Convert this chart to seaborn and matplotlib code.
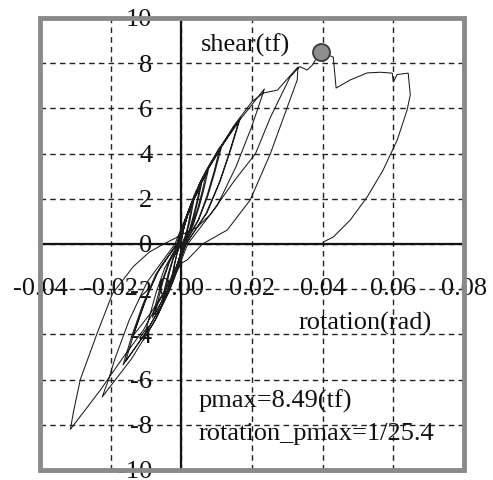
import matplotlib
matplotlib.use("Agg")
import matplotlib.pyplot as plt
import pandas as pd
import seaborn as sns
from matplotlib.patches import Rectangle

# ---------------- data ----------------
x_ticks = [-0.04, -0.02, 0.00, 0.02, 0.04, 0.06, 0.08]
x_tick_labels = ["-0.04", "-0.02", "0.00", "0.02", "0.04", "0.06", "0.08"]
y_ticks = [-10, -8, -6, -4, -2, 0, 2, 4, 6, 8, 10]
y_tick_labels = ["-10", "-8", "-6", "-4", "-2", "0", "2", "4", "6", "8", "10"]

# hysteresis cycles: rotation (rad) / shear (tf)
rot_a = [0, 0.00033, 0.0010, 0.0019, 0.0030, 0.0025, 0.0020, 0.0013, 0.0003,
         -0.0003, -0.0009, -0.0017, -0.0027, -0.0023, -0.0018, -0.0012, -0.0003]
shear_a = [0, 0.45, 0.9, 1.35, 1.8, 1.35, 0.9, 0.45, 0,
           -0.425, -0.85, -1.275, -1.7, -1.275, -0.85, -0.425, 0]

rot_a2 = [0.0004, 0.0012, 0.0023, 0.0036, 0.0030, 0.0024, 0.0016, 0.0003,
          -0.00035, -0.0011, -0.0020, -0.0032, -0.0027, -0.0021, -0.0014, -0.0003]
shear_a2 = [0.5, 1.0, 1.5, 2.0, 1.5, 1.0, 0.5, 0,
            -0.49, -0.975, -1.46, -1.95, -1.46, -0.975, -0.49, 0]

rot_b = [0.00057, 0.0017, 0.0033, 0.0052, 0.0044, 0.0034, 0.0023, 0.0004,
         -0.00055, -0.00165, -0.0032, -0.0050, -0.0042, -0.0033, -0.0022, -0.0004]
shear_b = [0.625, 1.25, 1.875, 2.5, 1.875, 1.25, 0.625, 0,
           -0.61, -1.225, -1.84, -2.45, -1.84, -1.225, -0.61, 0]

rot_b2 = [0.0006, 0.0019, 0.0036, 0.0057, 0.0048, 0.0038, 0.0025, 0.0005,
          -0.0006, -0.0018, -0.0035, -0.0056, -0.0047, -0.0037, -0.0024, -0.0005]
shear_b2 = [0.66, 1.325, 1.99, 2.65, 1.99, 1.325, 0.66, 0,
            -0.65, -1.3, -1.95, -2.6, -1.95, -1.3, -0.65, 0]

rot_c = [0.00076, 0.0023, 0.0044, 0.0070, 0.0059, 0.0046, 0.0030, 0.0006,
         -0.0008, -0.0025, -0.0047, -0.0075, -0.0063, -0.0050, -0.0033, -0.0006]
shear_c = [0.775, 1.55, 2.325, 3.1, 2.325, 1.55, 0.775, 0,
           -0.775, -1.55, -2.325, -3.1, -2.325, -1.55, -0.775, 0]

rot_c2 = [0.0008, 0.0025, 0.0048, 0.0076, 0.0064, 0.0050, 0.0033, 0.0006,
          -0.0009, -0.0027, -0.0052, -0.0082, -0.0069, -0.0054, -0.0036, -0.0007]
shear_c2 = [0.81, 1.625, 2.44, 3.25, 2.44, 1.625, 0.81, 0,
            -0.81, -1.625, -2.44, -3.25, -2.44, -1.625, -0.81, 0]

rot_d = [0.0012, 0.0036, 0.0069, 0.0110, 0.0093, 0.0073, 0.0048, 0.0009,
         -0.0012, -0.0035, -0.0068, -0.0107, -0.0090, -0.0071, -0.0047, -0.0009]
shear_d = [1.075, 2.15, 3.225, 4.3, 3.225, 2.15, 1.075, 0,
           -1.06, -2.125, -3.19, -4.25, -3.19, -2.125, -1.06, 0]

rot_d2 = [0.0012, 0.0037, 0.0071, 0.0113, 0.0095, 0.0075, 0.0049, 0.0009,
          -0.0015, -0.0045, -0.0086, -0.0136, -0.0114, -0.0090, -0.0059, -0.0011]
shear_d2 = [1.06, 2.125, 3.19, 4.25, 3.19, 2.125, 1.06, 0,
            -1.01, -2.025, -3.04, -4.05, -3.04, -2.025, -1.01, 0]

rot_e = [0.0018, 0.0055, 0.0105, 0.0167, 0.0140, 0.0110, 0.0073, 0.0013,
         -0.0017, -0.0052, -0.0100, -0.0158, -0.0133, -0.0104, -0.0069, -0.0013]
shear_e = [1.39, 2.785, 4.18, 5.57, 4.18, 2.785, 1.39, 0,
           -1.3, -2.6, -3.9, -5.2, -3.9, -2.6, -1.3, 0]

rot_e2 = [0.0018, 0.0053, 0.0102, 0.0162, 0.0136, 0.0107, 0.0070, 0.0013,
          -0.0018, -0.0054, -0.0104, -0.0165, -0.0139, -0.0109, -0.0072, -0.0013]
shear_e2 = [1.35, 2.7, 4.05, 5.4, 4.05, 2.7, 1.35, 0,
            -1.34, -2.675, -4.01, -5.35, -4.01, -2.675, -1.34, 0]

rot_f = [0.0026, 0.0078, 0.0148, 0.0235, 0.0218, 0.0198, 0.0155, 0.0102, 0.0018,
         -0.0024, -0.0074, -0.0141, -0.0224, -0.0206, -0.0188, -0.0148, -0.0097, -0.0018]
shear_f = [1.715, 3.43, 5.145, 6.86, 6.06, 5.145, 3.43, 1.715, 0,
           -1.69, -3.385, -5.08, -6.77, -6.0, -5.08, -3.385, -1.69, 0]

rot_g = [0.0000, 0.0050, 0.0096, 0.0147, 0.0200, 0.0232, 0.0272, 0.0330, 0.0328, 0.0300, 0.0252, 0.0195,
         0.0130, 0.0060, 0.0017, 0.0000, -0.0040, -0.0107, -0.0164, -0.0229, -0.0280, -0.0314, -0.0305,
         -0.0286, -0.0238, -0.0195, -0.0136, -0.0090, -0.0050]
shear_g = [0.7, 2.6, 3.9, 5.2, 6.3, 6.68, 6.81, 7.83, 7.26, 6.06, 4.0, 1.95,
           0.62, 0.0, -0.7, -0.85, -1.9, -3.8, -5.0, -6.46, -7.5, -8.2, -7.4,
           -6.0, -3.94, -2.2, -1.0, -0.35, 0]

rot_final = [0.0045, 0.0082, 0.0150, 0.0210, 0.0252, 0.0308, 0.0335, 0.0356, 0.0371, 0.0393, 0.0416,
             0.0430, 0.0438, 0.0478, 0.0526, 0.0563, 0.0597, 0.0600, 0.0611, 0.0642, 0.0648, 0.0639,
             0.0611, 0.0571, 0.0526, 0.0478, 0.0430, 0.0402, 0.0400]
shear_final = [0.75, 1.3, 2.8, 4.0, 5.6, 7.4, 7.85, 7.7, 7.92, 8.49, 8.36,
               8.27, 6.9, 7.26, 7.57, 7.6, 7.56, 7.17, 7.5, 7.56, 6.6, 5.93,
               4.6, 3.27, 2.08, 1.06, 0.31, 0.09, 0.0]

pmax_rot = [0.0394]
pmax_shear = [8.49]

# ---------------- build the path ----------------
rot_parts = [rot_a, rot_a2, rot_b, rot_b2, rot_c, rot_c2, rot_d, rot_d2, rot_e, rot_e2, rot_f, rot_g, rot_final]
shear_parts = [shear_a, shear_a2, shear_b, shear_b2, shear_c, shear_c2, shear_d, shear_d2, shear_e, shear_e2, shear_f, shear_g, shear_final]
rot_all, shear_all = [], []
for r, s in zip(rot_parts, shear_parts):
    rot_all += r
    shear_all += s
df = pd.DataFrame({"rotation": rot_all, "shear": shear_all})

# ---------------- figure ----------------
sns.set_style("white")
plt.rcParams["font.family"] = ["Liberation Serif", "DejaVu Serif"]
plt.rcParams["axes.unicode_minus"] = False

W, H = 493, 480
fig = plt.figure(figsize=(W / 100, H / 100), dpi=100)
ax = fig.add_axes([40 / W, 1 - 470 / H, 424 / W, 452 / H])

sns.lineplot(data=df, x="rotation", y="shear", sort=False, estimator=None,
             color="#1c1c1c", lw=0.75, ax=ax, zorder=4)
sns.scatterplot(x=pmax_rot, y=pmax_shear, s=150, color="#8e8e8e",
                edgecolor="#3a3a3a", linewidth=1.3, ax=ax, zorder=6)

ax.set_xlim(-0.04, 0.08)
ax.set_ylim(-10, 10)
ax.set_xticks(x_ticks)
ax.set_xticklabels(x_tick_labels)
ax.set_yticks(y_ticks)
ax.set_yticklabels(y_tick_labels)
ax.set_xlabel("")
ax.set_ylabel("")

ax.grid(True, linestyle=(0, (4, 3)), color="#222222", lw=1.0)
ax.set_axisbelow(True)

for side in ["top", "right"]:
    ax.spines[side].set_visible(False)
for side in ["left", "bottom"]:
    ax.spines[side].set_position(("data", 0))
    ax.spines[side].set_color("#111111")
    ax.spines[side].set_linewidth(1.6)
    ax.spines[side].set_zorder(3)

ax.add_patch(Rectangle((0, 0), 1, 1, transform=ax.transAxes, fill=False,
                       edgecolor="#8a8a8a", lw=3.5, clip_on=False, zorder=7))

ax.tick_params(axis="y", direction="in", length=7, width=1.3, pad=21,
               labelsize=19, colors="#111111")
ax.tick_params(axis="x", direction="inout", length=9, width=1.3, pad=20,
               labelsize=19, colors="#111111")

txt = dict(fontsize=19, color="#111111", zorder=8)
ax.text(0.0054, 8.5, "shear(tf)", ha="left", va="baseline", **txt)
ax.text(0.0331, -3.8, "rotation(rad)", ha="left", va="baseline", **txt)
ax.text(0.0048, -7.26, "pmax=8.49(tf)", ha="left", va="baseline", **txt)
ax.text(0.0048, -8.67, "rotation_pmax=1/25.4", ha="left", va="baseline", **txt)

fig.savefig("out.png", dpi=100)
